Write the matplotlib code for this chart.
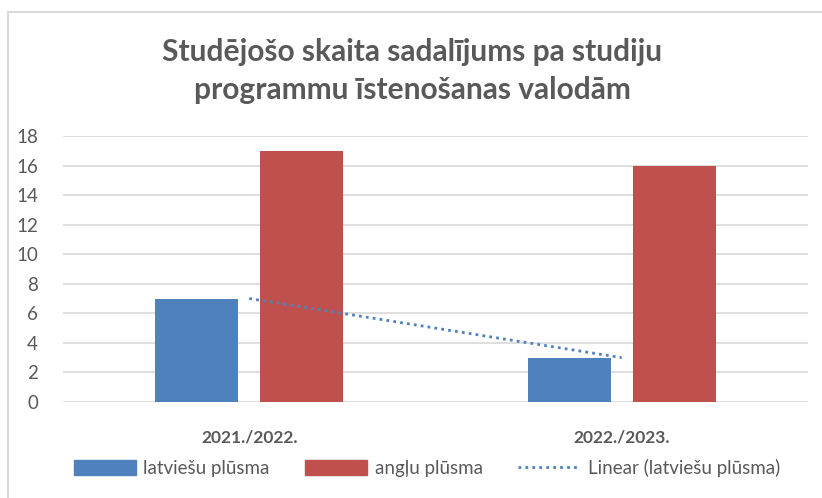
import matplotlib.pyplot as plt
import numpy as np
from matplotlib.lines import Line2D
from matplotlib.patches import Patch, Rectangle

categories = ["2021./2022.", "2022./2023."]
latviesu = [7, 3]
anglu = [17, 16]
series_names = ["latviešu plūsma", "angļu plūsma", "Linear (latviešu plūsma)"]
title = "Studējošo skaita sadalījums pa studiju\nprogrammu īstenošanas valodām"

plt.rcParams['font.family'] = ['Lato', 'DejaVu Sans']
txt = '#595959'
blue = '#4f81bd'
red = '#c0504d'

fig = plt.figure(figsize=(8.22, 4.98), dpi=100)
W, H = 822, 498
ax = fig.add_axes([63/W, 1-402/H, (808-63)/W, (402-136)/H])

x = np.arange(len(categories))
w = 0.223
off = 0.141
ax.bar(x - off, latviesu, w, color=blue, zorder=3)
ax.bar(x + off, anglu, w, color=red, zorder=3)

# linear trend of latviešu series
coef = np.polyfit(x, latviesu, 1)
ax.plot(x, np.polyval(coef, x), linestyle=(0, (1, 1.5)), color=blue, lw=2, zorder=4)

ax.set_xlim(-0.5, 1.5)
ax.set_ylim(0, 18)
ax.set_yticks(range(0, 19, 2))
ax.set_xticks(x)
ax.set_xticklabels(categories, fontweight='bold', fontsize=12.5, color=txt)
ax.tick_params(axis='x', length=0, pad=20)
ax.tick_params(axis='y', length=0, labelsize=13.5, labelcolor=txt, pad=18)
for lab in ax.get_yticklabels():
    lab.set_horizontalalignment('right')
ax.grid(axis='y', color='#d9d9d9', lw=1.2, zorder=0)
for s in ax.spines.values():
    s.set_visible(False)

fig.text(412/W, 1-71/H, title, ha='center', va='center', fontsize=21.5,
         fontweight='bold', color=txt, linespacing=1.4)

handles = [Patch(color=blue), Patch(color=red),
           Line2D([0], [0], color=blue, lw=2, linestyle=(0, (1, 1.5)))]
leg = fig.legend(handles, series_names, loc='center', bbox_to_anchor=(427/W, 1-468/H),
                 ncol=3, frameon=False, fontsize=13.5, handlelength=3.3, handleheight=0.8,
                 columnspacing=1.9, handletextpad=0.4)
for t in leg.get_texts():
    t.set_color(txt)

# chart frame
fig.patches.append(Rectangle((8/W, -0.1), 1.2, 1 - 12/H + 0.1, transform=fig.transFigure,
                             fill=False, edgecolor='#d9d9d9', lw=1.5))

fig.savefig('out.png', dpi=100, facecolor='white')
